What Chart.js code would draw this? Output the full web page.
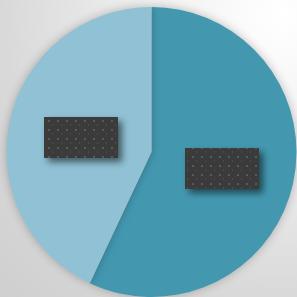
<!DOCTYPE html>
<html>
<head>
<meta charset="utf-8">
<script src="https://cdn.jsdelivr.net/npm/chart.js@4.4.1/dist/chart.umd.min.js"></script>
<style>
  html, body { margin: 0; padding: 0; }
  body {
    width: 297px; height: 297px; overflow: hidden;
    background: radial-gradient(circle at 95% 5%, #ffffff 0%, #f2f2f2 30%, #d9d9d9 70%, #cfcfcf 100%);
  }
  #wrap { width: 297px; height: 297px; position: relative; }
</style>
</head>
<body>
<div id="wrap"><canvas id="chart1"></canvas></div>
<script>
var categories = ['Series A', 'Series B']
var values = [57, 43]
var colors = ['#4398b0', '#90c1d4']

// dotted dark texture for the label boxes
function makePattern(ctx){
  var p = document.createElement('canvas')
  p.width = 9; p.height = 9
  var c = p.getContext('2d')
  c.fillStyle = '#3b3b3b'
  c.fillRect(0, 0, 9, 9)
  c.fillStyle = '#5a5a5a'
  c.fillRect(3, 3, 2, 2)
  c.fillStyle = '#4c4c4c'
  c.fillRect(7, 7, 1, 2)
  return ctx.createPattern(p, 'repeat')
}

var pieShadow = {
  id: 'pieShadow',
  beforeDatasetsDraw: function(chart){
    var ctx = chart.ctx
    ctx.save()
    ctx.shadowColor = 'rgba(0,0,0,0.25)'
    ctx.shadowBlur = 10
  },
  afterDatasetsDraw: function(chart){
    var ctx = chart.ctx
    ctx.restore()
    var meta = chart.getDatasetMeta(0)
    var pat = makePattern(ctx)
    meta.data.forEach(function(arc){
      var pt = arc.getCenterPoint()
      var w = 74, h = 41
      ctx.save()
      ctx.shadowColor = 'rgba(0,0,0,0.55)'
      ctx.shadowBlur = 7
      ctx.shadowOffsetX = 4
      ctx.shadowOffsetY = 4
      ctx.fillStyle = pat
      ctx.fillRect(Math.round(pt.x - w / 2), Math.round(pt.y - h / 2) + 1, w, h)
      ctx.restore()
    })
  }
}

const ctx = document.getElementById('chart1')
new Chart(ctx, {
  type: 'pie',
  data: {
    labels: categories,
    datasets: [{
      data: values,
      backgroundColor: colors,
      borderWidth: 0
    }]
  },
  options: {
    responsive: true,
    maintainAspectRatio: false,
    animation: false,
    layout: { padding: { left: 6, right: 0, top: 7, bottom: 0 } },
    plugins: {
      legend: { display: false },
      tooltip: { enabled: false }
    }
  },
  plugins: [pieShadow]
})
</script>
</body>
</html>
